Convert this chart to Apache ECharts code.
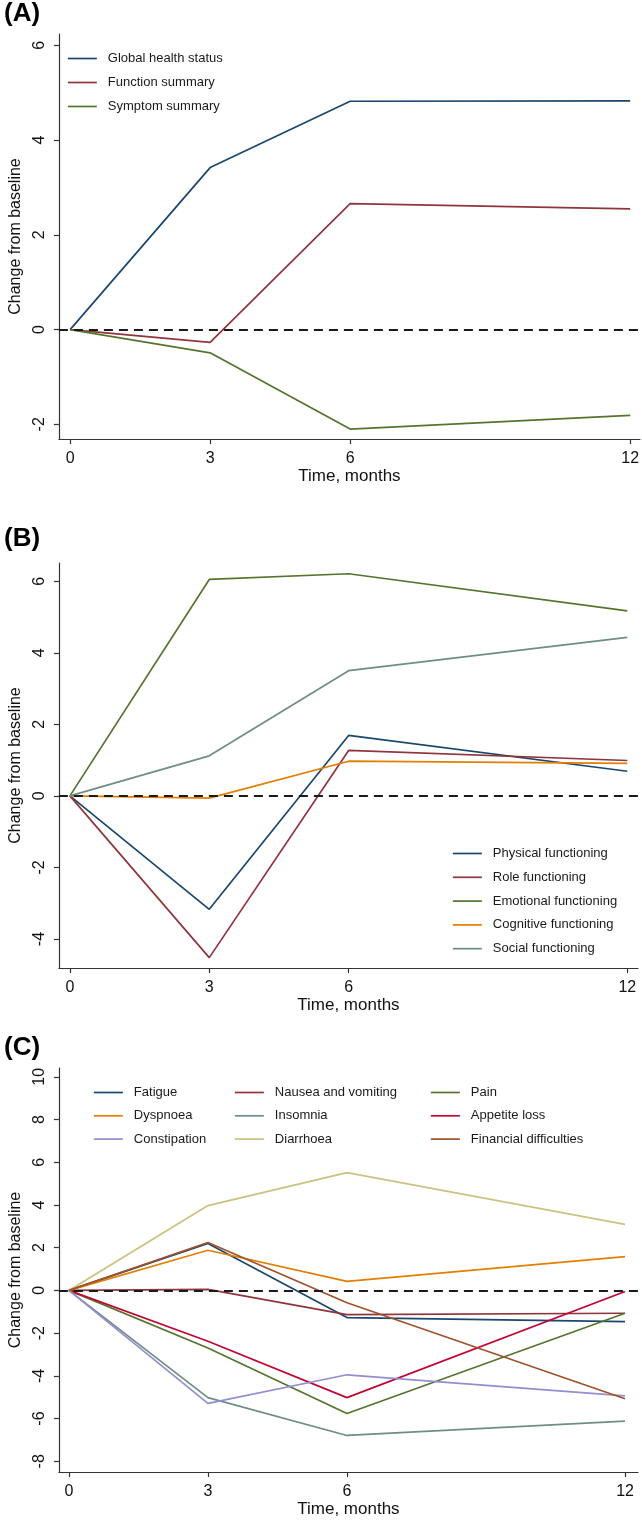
<!DOCTYPE html>
<html>
<head>
<meta charset="utf-8">
<script src="https://cdn.jsdelivr.net/npm/echarts@6/dist/echarts.min.js"></script>
<style>
html,body{margin:0;padding:0;background:#fff;}
#chart{width:642px;height:1520px;}
</style>
</head>
<body>
<div id="chart"></div>
<script>
// ---- data ----
const months = [0, 3, 6, 12];
const xTickLabels = [0, 3, 6, 12];

// Panel A
const namesA = ['Global health status', 'Function summary', 'Symptom summary'];
const globalHealth = [0, 3.42, 4.82, 4.83];
const functionSummary = [0, -0.27, 2.66, 2.55];
const symptomSummary = [0, -0.49, -2.10, -1.81];
const yTicksA = [-2, 0, 2, 4, 6];

// Panel B
const namesB = ['Physical functioning', 'Role functioning', 'Emotional functioning', 'Cognitive functioning', 'Social functioning'];
const physical = [0, -3.17, 1.69, 0.69];
const role = [0, -4.52, 1.27, 0.99];
const emotional = [0, 6.05, 6.21, 5.17];
const cognitive = [0, -0.06, 0.97, 0.91];
const social = [0, 1.12, 3.50, 4.43];
const yTicksB = [-4, -2, 0, 2, 4, 6];

// Panel C
const namesC = ['Fatigue', 'Nausea and vomiting', 'Pain', 'Dyspnoea', 'Insomnia', 'Appetite loss', 'Constipation', 'Diarrhoea', 'Financial difficulties'];
const fatigue = [0, 2.20, -1.27, -1.46];
const nausea = [0, 0.05, -1.13, -1.07];
const pain = [0, -2.70, -5.76, -1.07];
const dyspnoea = [0, 1.88, 0.42, 1.58];
const insomnia = [0, -5.02, -6.79, -6.12];
const appetite = [0, -2.38, -5.02, -0.05];
const constipation = [0, -5.29, -3.95, -4.94];
const diarrhoea = [0, 3.97, 5.51, 3.09];
const financial = [0, 2.24, -0.58, -5.07];
const yTicksC = [-8, -6, -4, -2, 0, 2, 4, 6, 8, 10];

const panelLabels = ['(A)', '(B)', '(C)'];
const xTitle = 'Time, months';
const yTitle = 'Change from baseline';

// ---- styling ----
const FONT = '"Liberation Sans", Arial, sans-serif';
const colors = {
  navy: '#1a476f', maroon: '#90353b', forest: '#55752f', dkorange: '#e37e00',
  teal: '#6e8e84', cranberry: '#c10534', lavender: '#938dd2', khaki: '#cac27e', sienna: '#a0522d'
};
const colA = [colors.navy, colors.maroon, colors.forest];
const colB = [colors.navy, colors.maroon, colors.forest, colors.dkorange, colors.teal];
const colC = [colors.navy, colors.maroon, colors.forest, colors.dkorange, colors.teal, colors.cranberry, colors.lavender, colors.khaki, colors.sienna];

const grids = [
  {left: 53, top: 34, width: 589, height: 405},
  {left: 49, top: 563, width: 589, height: 405},
  {left: 48, top: 1068, width: 590, height: 404}
];
const xRanges = [[-0.24, 12.21], [-0.237, 12.23], [-0.216, 12.28]];
const yRanges = [[-2.31, 6.24], [-4.81, 6.51], [-8.5, 10.41]];
const yTicks = [yTicksA, yTicksB, yTicksC];
const yNameGaps = [29, 31, 32];

const axisColor = '#333';

function xAxisFor(i) {
  return {
    type: 'value', gridIndex: i, min: xRanges[i][0], max: xRanges[i][1],
    name: xTitle, nameLocation: 'middle', nameGap: 28,
    nameTextStyle: {fontFamily: FONT, fontSize: 17, color: '#111'},
    axisLine: {show: true, onZero: false, lineStyle: {color: axisColor, width: 1.2}},
    axisTick: {show: true, length: 5, customValues: xTickLabels, lineStyle: {color: axisColor, width: 1.2}},
    axisLabel: {customValues: xTickLabels, margin: 12, fontFamily: FONT, fontSize: 16, color: '#111'},
    splitLine: {show: false}
  };
}
function yAxisFor(i) {
  return {
    type: 'value', gridIndex: i, min: yRanges[i][0], max: yRanges[i][1],
    name: yTitle, nameLocation: 'middle', nameGap: yNameGaps[i], nameRotate: 90,
    nameTextStyle: {fontFamily: FONT, fontSize: 16, color: '#111'},
    axisLine: {show: true, onZero: false, lineStyle: {color: axisColor, width: 1.2}},
    axisTick: {show: true, length: 5, customValues: yTicks[i], lineStyle: {color: axisColor, width: 1.2}},
    axisLabel: {customValues: yTicks[i], rotate: 90, margin: 11, fontFamily: FONT, fontSize: 16, color: '#111'},
    splitLine: {show: false}
  };
}

function mkSeries(name, vals, color, gi, withZero) {
  const s = {
    name: name, type: 'line', xAxisIndex: gi, yAxisIndex: gi,
    data: months.map((m, k) => [m, vals[k]]),
    symbol: 'none', showSymbol: false, silent: true,
    lineStyle: {color: color, width: 1.7},
    itemStyle: {color: color},
    animation: false, z: 3
  };
  if (withZero) {
    s.markLine = {
      silent: true, symbol: 'none', animation: false,
      label: {show: false},
      lineStyle: {color: '#1a1a1a', width: 2, type: [9, 6]},
      data: [{yAxis: 0}]
    };
  }
  return s;
}

const seriesA = [globalHealth, functionSummary, symptomSummary].map((v, k) => mkSeries(namesA[k], v, colA[k], 0, k === 0));
const seriesB = [physical, role, emotional, cognitive, social].map((v, k) => mkSeries(namesB[k], v, colB[k], 1, k === 0));
const seriesC = [fatigue, nausea, pain, dyspnoea, insomnia, appetite, constipation, diarrhoea, financial].map((v, k) => mkSeries(namesC[k], v, colC[k], 2, k === 0));

function legendFor(names, left, top, gap) {
  return {
    data: names, orient: 'vertical', left: left, top: top,
    itemWidth: 29, itemHeight: 14, itemGap: gap, padding: 0,
    selectedMode: false,
    itemStyle: {opacity: 0, borderWidth: 0},
    lineStyle: {width: 1.7},
    textStyle: {fontFamily: FONT, fontSize: 13, color: '#1a1a1a', padding: [0, 0, 0, 6]}
  };
}

const option = {
  backgroundColor: '#fff',
  animation: false,
  grid: grids,
  xAxis: [0, 1, 2].map(xAxisFor),
  yAxis: [0, 1, 2].map(yAxisFor),
  legend: [
    legendFor(namesA, 67, 52, 11),
    legendFor(namesB, 452, 847, 10.8),
    legendFor([namesC[0], namesC[3], namesC[6]], 93, 1086, 10.3),
    legendFor([namesC[1], namesC[4], namesC[7]], 234, 1086, 10.3),
    legendFor([namesC[2], namesC[5], namesC[8]], 430, 1086, 10.3)
  ],
  graphic: [
    {type: 'text', left: 4, top: 1, style: {text: panelLabels[0], font: 'bold 26px ' + FONT, fill: '#000'}},
    {type: 'text', left: 4, top: 526, style: {text: panelLabels[1], font: 'bold 26px ' + FONT, fill: '#000'}},
    {type: 'text', left: 4, top: 1035, style: {text: panelLabels[2], font: 'bold 26px ' + FONT, fill: '#000'}}
  ],
  series: [].concat(seriesA, seriesB, seriesC)
};

const chart = echarts.init(document.getElementById('chart'), null, {renderer: 'canvas'});
chart.setOption(option);
</script>
</body>
</html>
